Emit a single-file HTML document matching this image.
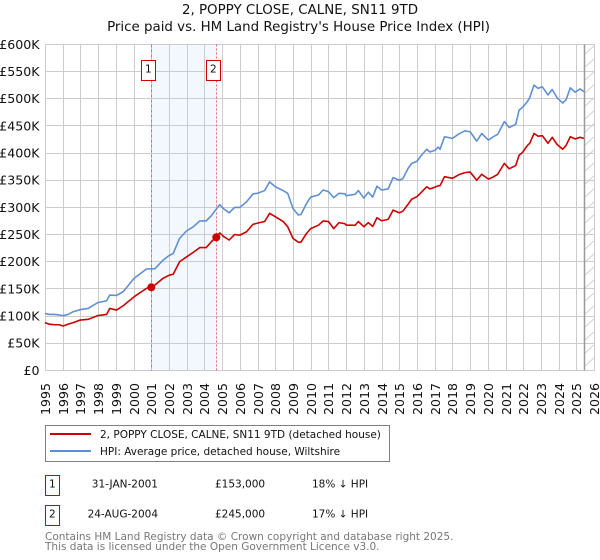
<!DOCTYPE html>
<html>
<head>
<meta charset="utf-8">
<style>
html,body{margin:0;padding:0;background:#fff;width:600px;height:560px;overflow:hidden}
svg{display:block;font-family:"DejaVu Sans","Liberation Sans",sans-serif}
</style>
</head>
<body>
<svg id="chart" width="600" height="560" viewBox="0 0 600 560" xmlns="http://www.w3.org/2000/svg">
  <defs>
    <pattern id="hatch" patternUnits="userSpaceOnUse" width="10" height="13" patternTransform="translate(585 44)">
      <line x1="0" y1="10" x2="10" y2="1" stroke="#cfcfcf" stroke-width="1"/>
    </pattern>
  </defs>
  <text x="300" y="14" text-anchor="middle" font-size="13.4" fill="#111">2, POPPY CLOSE, CALNE, SN11 9TD</text>
  <text x="298.5" y="31" text-anchor="middle" font-size="13.4" fill="#111">Price paid vs. HM Land Registry's House Price Index (HPI)</text>
  <g id="plot"></g>

  <g>
    <rect x="45.5" y="425.5" width="344" height="36" fill="#fff" stroke="#808080" stroke-width="1"/>
    <line x1="50" x2="91" y1="434" y2="434" stroke="#cc0000" stroke-width="2"/>
    <text x="100" y="438" font-size="10.5" fill="#111">2, POPPY CLOSE, CALNE, SN11 9TD (detached house)</text>
    <line x1="50" x2="91" y1="451" y2="451" stroke="#5b8ed6" stroke-width="2"/>
    <text x="100" y="455" font-size="10.5" fill="#111">HPI: Average price, detached house, Wiltshire</text>
  </g>

  <g font-size="10.5" fill="#111">
    <g>
      <rect x="45.5" y="475.5" width="14" height="20" fill="#fff" stroke="#cc0000" stroke-width="1"/>
      <text x="52.3" y="487.5" text-anchor="middle">1</text>
      <text x="158" y="487.5" text-anchor="end">31-JAN-2001</text>
      <text x="215" y="487.5">£153,000</text>
      <text x="312" y="487.5">18% ↓ HPI</text>
    </g>
    <g>
      <rect x="45.5" y="505.5" width="14" height="20" fill="#fff" stroke="#cc0000" stroke-width="1"/>
      <text x="52.3" y="517.5" text-anchor="middle">2</text>
      <text x="158" y="517.5" text-anchor="end">24-AUG-2004</text>
      <text x="215" y="517.5">£245,000</text>
      <text x="312" y="517.5">17% ↓ HPI</text>
    </g>
  </g>
  <text x="45" y="540" font-size="10.5" fill="#777">Contains HM Land Registry data © Crown copyright and database right 2025.</text>
  <text x="45" y="550" font-size="10.5" fill="#777">This data is licensed under the Open Government Licence v3.0.</text>
</svg>
<script>
const yTicks = [0,50,100,150,200,250,300,350,400,450,500,550,600];
const yTickLabels = ['£0','£50K','£100K','£150K','£200K','£250K','£300K','£350K','£400K','£450K','£500K','£550K','£600K'];
const xTicks = [1995,1996,1997,1998,1999,2000,2001,2002,2003,2004,2005,2006,2007,2008,2009,2010,2011,2012,2013,2014,2015,2016,2017,2018,2019,2020,2021,2022,2023,2024,2025,2026];
const dates = [1995,1995.25,1995.56,1995.8,1996.03,1996.3,1996.6,1997,1997.44,1998,1998.48,1998.66,1999.04,1999.42,2000.04,2000.73,2001.01,2001.2,2001.67,2002.03,2002.24,2002.6,2003,2003.36,2003.74,2004.1,2004.4,2004.65,2004.87,2005.1,2005.4,2005.7,2006,2006.37,2006.75,2007,2007.4,2007.68,2008,2008.45,2008.7,2009,2009.3,2009.45,2009.76,2010,2010.45,2010.7,2011,2011.3,2011.6,2011.93,2012,2012.5,2012.69,2013,2013.25,2013.5,2013.74,2014,2014.37,2014.65,2015,2015.2,2015.5,2015.7,2016,2016.25,2016.55,2016.72,2017,2017.2,2017.3,2017.55,2018,2018.35,2018.7,2019,2019.37,2019.65,2020.03,2020.3,2020.55,2020.93,2021.2,2021.57,2021.76,2021.95,2022.23,2022.36,2022.6,2022.83,2023.07,2023.39,2023.63,2023.9,2024.22,2024.41,2024.65,2024.93,2025.2,2025.42];
const hpiValues = [105,103,103,102,100.7,103,108,112,114,125,128,138.7,138,145,169.5,186.6,187,187,203,212,215,243,257,264,275,275,285,296,305,297,290,300,300,310,325,326,331,347,338,331,326,298,286,287,307,319,323,332,329,318,326,325,321.5,324,331,317,328,319,339,332,334,355,350,353,372,381,385,396,407,402,405,411,407,430,427,435,441,439,422,436,424,430,434.5,458,447,453,479,484,495,502,525,519,522,507,517,502,492,498,520,512,518,513];
const priceValues = [88,85,84,84,81.7,85,88,92.7,94,101,103,114,111,119,135.6,151,153,157,169.5,175.5,177,200,209,217,226,226,237,245,253,246,240,250,249,255,269,271,274,289,283,274,264.5,243,236,236,252,261,267.5,275,274,261,272,270,267.5,267,274,264.5,272,265,281,275.4,278,295,290,293,306,315,320,328,338,334,337,340,340,356.5,353.5,360,364,365,350,361,352,356,361,381,371,377,396,401,414,418,436,431,432,418,429,416,407,414,430,426,429,427];
const saleDates = [2001.01,2004.65];
const saleValues = [153,245];
const shadedRange = [2001.01,2004.65];
const forecastStart = 2025.42;

const NS = 'http://www.w3.org/2000/svg';
const plot = document.getElementById('plot');
function xAxis(year){ return 44.9 + (year - 1995) * 17.72; }
function yAxis(k){ return 369.9 - k * 326 / 600; }
function snap(v){ return Math.round(v) + 0.5; }
function make(tag, attrs, parent){
  const el = document.createElementNS(NS, tag);
  for (const k in attrs) el.setAttribute(k, attrs[k]);
  (parent || plot).appendChild(el);
  return el;
}
const left = snap(xAxis(1995)), right = snap(xAxis(2026)), top_ = snap(yAxis(600)), bottom = snap(yAxis(0));

const band = make('rect', {x:snap(xAxis(shadedRange[0])), y:top_, width:snap(xAxis(shadedRange[1]))-snap(xAxis(shadedRange[0])), height:bottom-top_, fill:'#f3f7fe'});



const hatch = make('rect', {x:snap(xAxis(forecastStart)), y:top_, width:right-snap(xAxis(forecastStart)), height:bottom-top_, fill:'url(#hatch)'});



yTicks.forEach(function(v, i){
  const y = snap(yAxis(v));
  const g = make('line', {x1:left, x2:right, y1:y, y2:y, stroke:'#cccccc', 'stroke-width':1});
  
  
  const t = make('text', {x:39.5, y:yAxis(v) + 5, 'text-anchor':'end', 'font-size':12.6, fill:'#111'});
  t.textContent = yTickLabels[i];
  
  
});
xTicks.forEach(function(v){
  const x = snap(xAxis(v));
  const g = make('line', {x1:x, x2:x, y1:top_, y2:bottom, stroke:'#cccccc', 'stroke-width':1});
  
  
  const t = make('text', {transform:'translate(' + (x + 4.5) + ' 415) rotate(-90)', 'font-size':12.6, fill:'#111'});
  t.textContent = String(v);
  
  
});

const fEdge = make('line', {x1:snap(xAxis(forecastStart)), x2:snap(xAxis(forecastStart)), y1:top_, y2:bottom, stroke:'#999999', 'stroke-width':1.5});



saleDates.forEach(function(d, i){
  const x = snap(xAxis(d));
  const l = make('line', {x1:x, x2:x, y1:top_, y2:bottom, stroke:'#ee6677', 'stroke-width':1, 'stroke-dasharray':i === 0 ? '3,2' : '2,2'});
  
  
});

function linePoints(values){
  return values.map(function(v, i){ return xAxis(dates[i]).toFixed(2) + ',' + (yAxis(v) + 0.5).toFixed(2); }).join(' ');
}
const hpiLine = make('polyline', {points:linePoints(hpiValues), fill:'none', stroke:'#5f90d4', 'stroke-width':1.6, 'stroke-linejoin':'round'});


const priceLine = make('polyline', {points:linePoints(priceValues), fill:'none', stroke:'#cc0000', 'stroke-width':1.6, 'stroke-linejoin':'round'});



saleDates.forEach(function(d, i){
  const c = make('circle', {cx:snap(xAxis(d)) - 0.2, cy:yAxis(saleValues[i]) + 0.5, r:4, fill:'#cc0000'});
  
  
  const x = snap(xAxis(d));
  const b = make('rect', {x:x - 10, y:60.5, width:14, height:20, fill:'#fff', stroke:'#cc0000', 'stroke-width':1});
  
  
  const t = make('text', {x:x - 3.2, y:72.5, 'text-anchor':'middle', 'font-size':10.5, fill:'#111'});
  t.textContent = String(i + 1);
  
  
});
</script>
</body>
</html>
